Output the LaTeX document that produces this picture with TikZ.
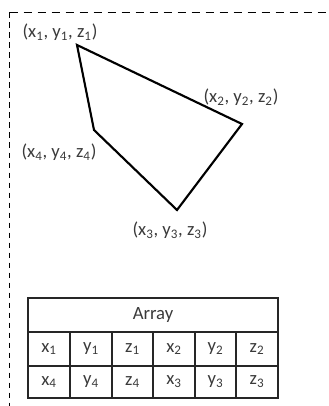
\documentclass[tikz,border=0pt]{standalone}
\usepackage{fontspec}
\setmainfont{Carlito}
\definecolor{txt}{HTML}{3A3A3A}
\newcommand{\sbs}[1]{\textsubscript{#1}}
\tikzset{
  lbl/.style={font=\fontsize{14}{16}\selectfont, text=txt, inner sep=0pt},
  cell/.style={font=\fontsize{14}{16}\selectfont, text=txt, inner sep=0pt},
  poly/.style={line width=1.6pt, line join=miter},
  grid/.style={draw=black!85, line width=0.9pt},
  frameh/.style={line width=1.4pt, dash pattern=on 6.5pt off 4pt},
  framev/.style={line width=1.4pt, dash pattern=on 4.3pt off 3.2pt}
}
\begin{document}
\begin{tikzpicture}[x=0.75pt,y=-0.75pt]
\useasboundingbox (0,0) rectangle (328,406);
\clip (0,0) rectangle (328,406);
\coordinate (c0) at (9.5,12.5);
\coordinate (cr) at (345,12.5);
\coordinate (cb) at (9.5,425);
\draw[frameh] (c0) -- (cr);
\draw[framev] (c0) -- (cb);
% vertices
\coordinate (v1) at (77,45);
\coordinate (v2) at (242,124);
\coordinate (v3) at (177,210);
\coordinate (v4) at (94,130);
\draw[poly] (v1) -- (v2) -- (v3) -- (v4) -- cycle;
\node[lbl] (l1) at (60,32) {(x\sbs{1}, y\sbs{1}, z\sbs{1})};
\node[lbl] (l2) at (241,97) {(x\sbs{2}, y\sbs{2}, z\sbs{2})};
\node[lbl] (l4) at (59,152) {(x\sbs{4}, y\sbs{4}, z\sbs{4})};
\node[lbl] (l3) at (170,230) {(x\sbs{3}, y\sbs{3}, z\sbs{3})};
% table
\draw[grid] (28,298) rectangle (278,398);
\draw[grid] (28,332) -- (278,332);
\draw[grid] (28,366) -- (278,366);
\foreach \xx in {70,112,153,195,236} \draw[grid] (\xx,332) -- (\xx,398);
\node[cell] (hdr) at (153,315) {Array};
\node[cell] (a1) at (49,349) {x\sbs{1}};
\node[cell] (a2) at (91,349) {y\sbs{1}};
\node[cell] (a3) at (132.5,349) {z\sbs{1}};
\node[cell] (a4) at (174,349) {x\sbs{2}};
\node[cell] (a5) at (215.5,349) {y\sbs{2}};
\node[cell] (a6) at (257,349) {z\sbs{2}};
\node[cell] (b1) at (49,382) {x\sbs{4}};
\node[cell] (b2) at (91,382) {y\sbs{4}};
\node[cell] (b3) at (132.5,382) {z\sbs{4}};
\node[cell] (b4) at (174,382) {x\sbs{3}};
\node[cell] (b5) at (215.5,382) {y\sbs{3}};
\node[cell] (b6) at (257,382) {z\sbs{3}};
\end{tikzpicture}
\end{document}
